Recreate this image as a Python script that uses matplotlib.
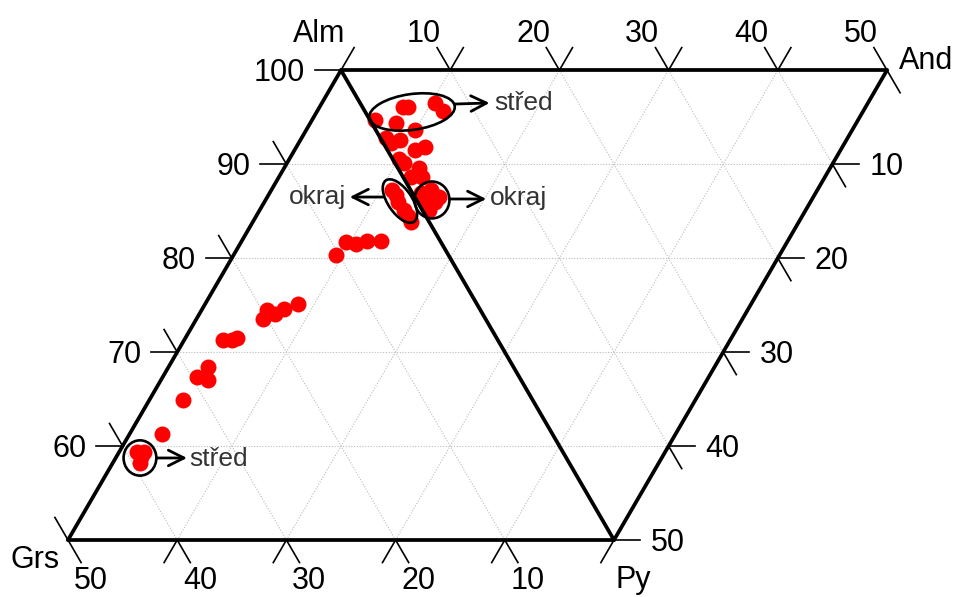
import numpy as np
import matplotlib.pyplot as plt
from matplotlib.patches import Ellipse

plt.rcParams['font.family'] = ['Liberation Sans', 'DejaVu Sans']

# slozeni granatu: Alm (%) a Grs (%), zaporne Grs = And v prave casti
alm = [59.4, 59.4, 58.8, 58.2,
       61.3, 64.9, 67.3, 68.4, 67.0,
       71.3, 71.3, 71.5,
       73.5, 74.5, 74.1, 74.6, 75.1,
       80.3, 81.7, 81.5, 81.8, 81.8,
       87.2, 86.7, 86.0, 85.1, 84.5, 83.8,
       86.9, 87.2, 86.0, 85.1, 86.0, 86.5,
       96.1, 96.1, 96.5, 95.7, 94.7, 94.4, 93.6, 92.8, 92.3,
       92.6, 91.5, 91.8, 90.6, 90.1, 89.6, 88.6, 88.6]
grs = [39.0, 38.3, 38.9, 39.3,
       35.7, 32.0, 29.5, 28.0, 28.7,
       25.2, 24.3, 23.8,
       20.4, 19.5, 19.0, 17.9, 16.4,
       10.3, 8.7, 7.9, 6.7, 5.4,
       1.75, 1.65, 1.75, 1.7, 1.66, 1.7,
       -0.8, -1.8, -1.6, -0.6, -0.8, -2.2,
       -3.7, -4.2, -6.9, -7.2, -0.5, -2.2, -3.6, -0.5, -0.7,
       -1.7, -2.55, -3.6, -0.6, -0.8, -1.9, -0.7, -1.7]

top_ticks = [10, 20, 30, 40, 50]
left_ticks = [100, 90, 80, 70, 60]
bottom_ticks = [50, 40, 30, 20, 10]
right_ticks = [10, 20, 30, 40, 50]

H = np.sqrt(3) / 2


def tern(a, g):
    a = np.asarray(a, float)
    g = np.asarray(g, float)
    return np.array([25 + (100 - a) / 2 - g, (a - 50) * H])


fig = plt.figure(figsize=(9.57, 5.97), dpi=100)
ax = fig.add_axes([0, 0, 1, 1])
ax.set_xlim(-68 / 10.92, (957 - 68) / 10.92)
ax.set_ylim(-57 / 10.85, 540 / 10.85)
ax.axis('off')

grid = dict(color='#bcbcbc', lw=0.8, ls=(0, (1, 1.5)), zorder=1)


def line(p, q, **kw):
    ax.plot([p[0], q[0]], [p[1], q[1]], **kw)


# mrizka
for v in [10, 20, 30, 40]:
    a = 100 - v
    line(tern(a, 100 - a), tern(a, 50 - a), **grid)
    line(tern(50, 50 - v), tern(100, -v), **grid)
    line(tern(100 - v, v), tern(50, v), **grid)
    line(tern(100, -v), tern(50 + v, -v), **grid)

# ramecek
Alm, Grs, Py, And = tern(100, 0), tern(50, 50), tern(50, 0), tern(100, -50)
frame = dict(color='k', lw=2.7, solid_capstyle='round', zorder=4)
for p, q in [(Alm, Grs), (Grs, Py), (Py, Alm), (Alm, And), (And, Py)]:
    line(p, q, **frame)

# znacky na osach
TL = 2.4
UL, UR, LEFT, RIGHT = (-0.5, H), (0.5, H), (-1, 0), (1, 0)
DL, DR = (-0.5, -H), (0.5, -H)


def tick(p, d):
    line(p, (p[0] + TL * d[0], p[1] + TL * d[1]), color='k', lw=1.2, zorder=4)


for v in [10, 20, 30, 40]:
    P = tern(100, -v)
    tick(P, UL); tick(P, UR)
    P = tern(100 - v, v)
    tick(P, LEFT); tick(P, UL)
    P = tern(50, v)
    tick(P, DL); tick(P, DR)
    P = tern(100 - v, v - 50)
    tick(P, RIGHT); tick(P, DR)
tick(Alm, UR); tick(Alm, LEFT)
tick(And, UL); tick(And, DR)
tick(Grs, UL); tick(Grs, DR)
tick(Py, DL); tick(Py, RIGHT)

fs = 22
dy = -0.25
for v in top_ticks:
    P = tern(100, -v)
    ax.text(P[0] - 2.4, P[1] + 3.6 + dy, str(v), fontsize=fs, ha='center', va='center')
for v in left_ticks:
    P = tern(v, 100 - v)
    ax.text(P[0] - 3.3, P[1] + dy, str(v), fontsize=fs, ha='right', va='center')
for v in bottom_ticks:
    P = tern(50, v)
    ax.text(P[0] + 2.1, P[1] - 3.75, str(v), fontsize=fs, ha='center', va='center')
for v in right_ticks:
    P = tern(100 - v, v - 50)
    ax.text(P[0] + 3.4, P[1] + dy, str(v), fontsize=fs, ha='left', va='center')

ax.text(Alm[0] - 2.0, Alm[1] + 3.6 + dy, 'Alm', fontsize=fs, ha='center', va='center')
ax.text(And[0] + 1.1, And[1] + 1.1 + dy, 'And', fontsize=fs, ha='left', va='center')
ax.text(Grs[0] - 3.0, Grs[1] - 1.6 + dy, 'Grs', fontsize=fs, ha='center', va='center')
ax.text(Py[0] + 1.8, Py[1] - 3.7, 'Py', fontsize=fs, ha='center', va='center')

# body
xy = tern(alm, grs)
ax.plot(xy[0], xy[1], 'o', color='#ff0000', ms=11.5, mec='none', zorder=3)

# oznaceni stred / okraj
ell = dict(fill=False, ec='k', lw=1.9, zorder=5)
ax.add_patch(Ellipse((31.5, 39.45), 7.9, 3.3, angle=8, **ell))
ax.add_patch(Ellipse((30.4, 31.24), 4.6, 2.2, angle=-56, **ell))
ax.add_patch(Ellipse((33.33, 31.34), 3.2, 3.4, **ell))
ax.add_patch(Ellipse((6.59, 7.56), 3.0, 3.25, **ell))

arrow = dict(arrowstyle='->', lw=2, color='k', mutation_scale=28,
             shrinkA=0, shrinkB=0)
tc = '#333333'
afs = 19
ax.annotate('', xy=(38.6, 40.28), xytext=(35.4, 40.18), arrowprops=arrow, zorder=5)
ax.text(39.0, 40.25, 'střed', fontsize=afs, color=tc, ha='left', va='center')
ax.annotate('', xy=(25.8, 31.61), xytext=(28.9, 31.61), arrowprops=arrow, zorder=5)
ax.text(25.45, 31.61, 'okraj', fontsize=afs, color=tc, ha='right', va='center')
ax.annotate('', xy=(38.3, 31.43), xytext=(34.9, 31.43), arrowprops=arrow, zorder=5)
ax.text(38.65, 31.5, 'okraj', fontsize=afs, color=tc, ha='left', va='center')
ax.annotate('', xy=(10.9, 7.56), xytext=(8.1, 7.56), arrowprops=arrow, zorder=5)
ax.text(11.1, 7.5, 'střed', fontsize=afs, color=tc, ha='left', va='center')

plt.savefig('out.png', dpi=100)
